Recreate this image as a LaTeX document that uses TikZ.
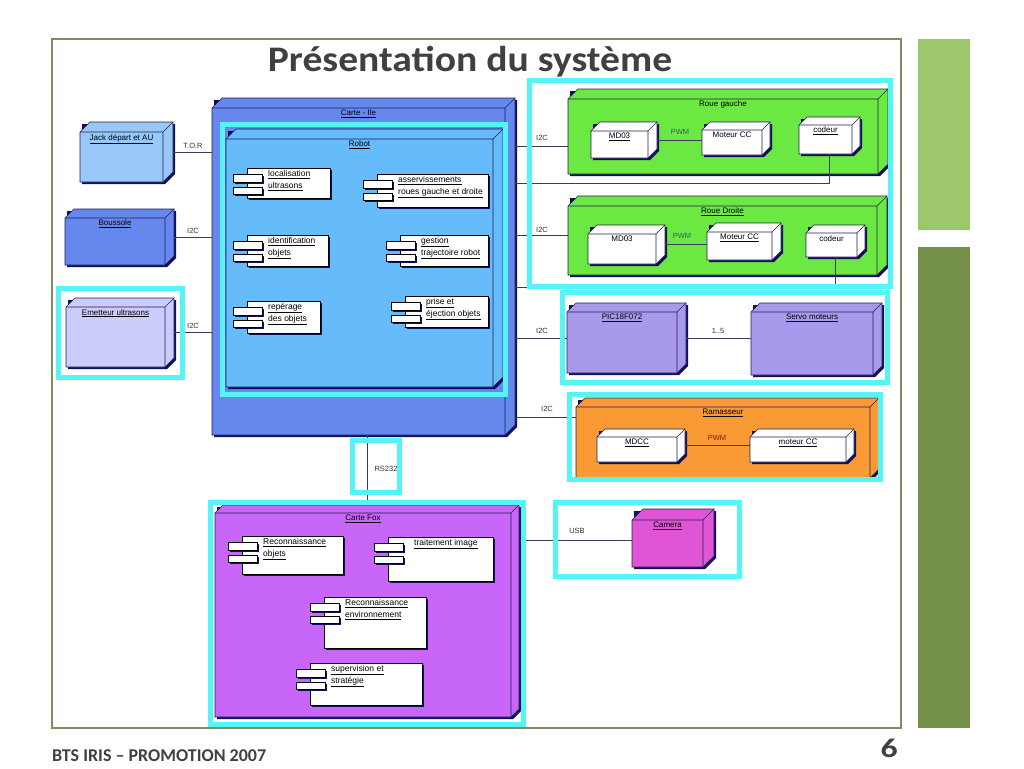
\documentclass[tikz,border=0pt]{standalone}
\usepackage{fontspec}
\setmainfont{Liberation Sans}
\newfontfamily\calib{Carlito}
\usetikzlibrary{calc}
\definecolor{frameC}{HTML}{7F8C5D}
\definecolor{barL}{HTML}{9DC76B}
\definecolor{barD}{HTML}{76924A}
\definecolor{titleC}{HTML}{404040}
\definecolor{cyanF}{HTML}{55F4F7}
\definecolor{shadowC}{HTML}{10105A}
\definecolor{edgeC}{HTML}{1E1E50}
\definecolor{lineC}{HTML}{3C3C5A}
\definecolor{jackC}{HTML}{99C8F8}
\definecolor{blueC}{HTML}{6688EE}
\definecolor{emetC}{HTML}{CCCCFA}
\definecolor{robotC}{HTML}{66BBFA}
\definecolor{greenC}{HTML}{6CE842}
\definecolor{picC}{HTML}{A999EC}
\definecolor{orangeC}{HTML}{FA9A35}
\definecolor{foxC}{HTML}{C766F8}
\definecolor{camC}{HTML}{E055D5}
\definecolor{pwmT}{HTML}{2F6060}
\definecolor{pwmR}{HTML}{8B1A1A}
\newcommand\uln[1]{\underline{#1}}
\tikzset{
  bbox/.style={rectangle,inner sep=0pt,outer sep=0pt,draw=none},
  nlbl/.style={inner sep=1pt,font=\fontsize{8}{10}\selectfont,text=black},
  clbl/.style={anchor=north west,align=left,inner sep=1pt,font=\fontsize{8.5}{12}\selectfont,text=black},
  conn/.style={draw=lineC,line width=0.8pt},
  clab/.style={inner sep=1pt,font=\fontsize{7.5}{9}\selectfont,text=black!80},
  cyanbox/.style={draw=cyanF,line width=5pt},
}
% 3D deployment node: name, x1, y1, x2, y2, depth, fill, label
\newcommand\dnode[8]{%
  \fill[shadowC] (#2+2,#3-#6+2) -- (#4+#6+2,#3-#6+2) -- (#4+#6+2,#5-#6+2) -- (#4+2,#5+2) -- (#2+2,#5+2) -- cycle;
  \filldraw[fill=#7,draw=edgeC,line width=0.6pt] (#2,#3) -- (#2+#6,#3-#6) -- (#4+#6,#3-#6) -- (#4+#6,#5-#6) -- (#4,#5) -- (#2,#5) -- cycle;
  \draw[edgeC,line width=0.6pt] (#2,#3) -- (#4,#3) -- (#4+#6,#3-#6) (#4,#3) -- (#4,#5);
  \node[bbox,minimum width=#4pt+#6pt-#2pt,minimum height=#5pt-#3pt+#6pt,anchor=north west] (#1) at (#2,#3-#6) {};
  \node[nlbl,anchor=north] (#1-l) at ({(#2+#4)/2},#3+1) {#8};
}
% component: name, x1, y1, x2, y2, text
\newcommand\comp[6]{%
  \fill[shadowC] (#2+2,#3+2) rectangle (#4+2,#5+2);
  \filldraw[fill=white,draw=black,line width=0.5pt] (#2,#3) rectangle (#4,#5);
  \fill[shadowC] (#2-12,#3+8) rectangle (#2+17,#3+16);
  \filldraw[fill=white,draw=black,line width=0.5pt] (#2-14,#3+6) rectangle (#2+15,#3+14);
  \fill[shadowC] (#2-12,#3+21) rectangle (#2+17,#3+28);
  \filldraw[fill=white,draw=black,line width=0.5pt] (#2-14,#3+19) rectangle (#2+15,#3+26);
  \node[bbox,minimum width=#4pt-#2pt,minimum height=#5pt-#3pt,anchor=north west] (#1) at (#2,#3) {};
  \node[clbl] (#1-l) at (#2+20,#3+1) {#6};
}
\begin{document}
\begin{tikzpicture}[x=1pt,y=-1pt]
\fill[white] (0,0) rectangle (1024,768);
\useasboundingbox (0,0) rectangle (1024,768);
% slide frame
\draw[frameC,line width=2pt] (52,39) rectangle (901,728);
\fill[barL] (918,39) rectangle (970,230);
\fill[barD] (918,247) rectangle (970,728);
\node[anchor=base,inner sep=0,text=titleC,font=\calib\bfseries\fontsize{36}{44}\selectfont] (title) at (470,71) {\scalebox{1.1}[1]{Présentation du système}};
\node[anchor=base west,inner sep=0,text=titleC,font=\calib\bfseries\fontsize{18}{22}\selectfont] (foot) at (52,761) {BTS IRIS – PROMOTION 2007};
\node[anchor=base east,inner sep=0,text=titleC,font=\calib\bfseries\fontsize{27}{32}\selectfont] (pnum) at (898,757) {\scalebox{1.25}[1]{6}};

% left nodes
\dnode{jack}{80}{132}{163}{182}{10}{jackC}{\uln{Jack départ et AU}}
\dnode{bous}{65}{218}{165}{265}{9}{blueC}{\uln{Boussole}}
\dnode{emet}{66}{307}{165}{367}{9}{emetC}{\uln{Emetteur ultrasons}}

% Carte - Ile and Robot
\dnode{carteile}{212}{108}{505}{435}{10}{blueC}{\uln{Carte - Ile}}
\dnode{robot}{226}{139}{493}{387}{10}{robotC}{\uln{Robot}}
\comp{loc}{247}{168}{330}{198}{\uln{localisation}\\\uln{ultrasons}}
\comp{asserv}{377}{174}{488}{207}{\uln{asservissements}\\\uln{roues gauche et droite}}
\comp{ident}{247}{235}{328}{266}{\uln{identification}\\\uln{objets}}
\comp{gest}{400}{235}{488}{266}{\uln{gestion}\\\uln{trajectoire robot}}
\comp{rep}{247}{301}{320}{333}{\uln{repérage}\\\uln{des objets}}
\comp{prise}{405}{296}{488}{327}{\uln{prise et}\\\uln{éjection objets}}

% Roue gauche
\dnode{rg}{568}{99}{878}{174}{10}{greenC}{Roue gauche}
\dnode{md1}{591}{131}{648}{158}{9}{white}{\uln{MD03}}
\dnode{mot1}{702}{130}{762}{155}{8}{white}{Moteur CC}
\dnode{cod1}{799}{125}{852}{154}{8}{white}{\uln{codeur}}
% Roue droite
\dnode{rd}{568}{206}{877}{275}{10}{greenC}{\uln{Roue Droite}}
\dnode{md2}{588}{234}{656}{264}{9}{white}{MD03}
\dnode{mot2}{707}{232}{772}{260}{9}{white}{\uln{Moteur CC}}
\dnode{cod2}{806}{233}{857}{257}{8}{white}{codeur}
% PIC and servo
\dnode{pic}{567}{312}{677}{373}{9}{picC}{\uln{PIC18F072}}
\dnode{servo}{751}{312}{873}{375}{9}{picC}{\uln{Servo moteurs}}
% Ramasseur
\dnode{ram}{576}{407}{870}{478}{9}{orangeC}{\uln{Ramasseur}}
\dnode{mdcc}{597}{437}{677}{462}{8}{white}{\uln{MDCC}}
\dnode{motcc}{750}{437}{846}{462}{8}{white}{\uln{moteur CC}}
% Carte Fox
\dnode{fox}{215}{513}{511}{717}{8}{foxC}{\uln{Carte Fox}}
\comp{recobj}{242}{536}{343}{574}{\uln{Reconnaissance}\\\uln{objets}}
\comp{trait}{388}{537}{493}{581}{\hspace{5pt}\uln{traitement image}}
\comp{recenv}{324}{597}{426}{648}{\uln{Reconnaissance}\\\uln{environnement}}
\comp{superv}{310}{663}{422}{705}{\uln{supervision et}\\\uln{stratégie}}
% Camera
\dnode{cam}{632}{520}{703}{567}{11}{camC}{\uln{Camera}}

% connectors
\draw[conn] (jack.east) -- (carteile.west |- jack.east);
\draw[conn] (bous.east) -- (carteile.west |- bous.east);
\draw[conn] (emet.east) -- (carteile.west |- emet.east);
\node[clab] (ltor) at (193,146) {T.O.R};
\node[clab] (li2c1) at (193,231) {I2C};
\node[clab] (li2c2) at (193,326) {I2C};

\draw[conn] (carteile.east |- 0,146) -- (rg.west |- 0,146);
\draw[conn] (carteile.east |- rd.west) -- (rd.west);
\draw[conn] (carteile.east |- pic.west) -- (pic.west);
\draw[conn] (carteile.east |- 0,417) -- (ram.west |- 0,417);
\node[clab] (ri2c1) at (542,138) {I2C};
\node[clab] (ri2c2) at (542,230) {I2C};
\node[clab] (ri2c3) at (542,331) {I2C};
\node[clab] (ri2c4) at (547,409) {I2C};

\draw[conn] (cod1.south) -- (cod1.south |- 0,183) -- (carteile.east |- 0,183);
\draw[conn] (cod2.south) -- (cod2.south |- 0,287) -- (carteile.east |- 0,287);

\draw[conn] (md1.east) -- (mot1.west |- md1.east);
\node[clab,text=pwmT] (pwm1) at (680,132) {PWM};
\draw[conn] (md2.east) -- (mot2.west |- md2.east);
\node[clab,text=pwmT] (pwm2) at (682,236) {PWM};
\draw[conn] (pic.east) -- (servo.west |- pic.east);
\node[clab] (l15) at (718,331) {1..5};
\draw[conn] (mdcc.east) -- (motcc.west |- mdcc.east);
\node[clab,text=pwmR] (pwm3) at (717,438) {PWM};

\draw[conn] (carteile.south -| fox.north) -- (fox.north);
\node[clab] (lrs) at (386,469) {RS232};
\draw[conn] (fox.east |- 0,540) -- (cam.west |- 0,540);
\node[clab] (lusb) at (577,531) {USB};

% cyan highlight frames
\draw[cyanbox] (222.5,124) rectangle (505.5,394.5);
\draw[cyanbox] (529.5,80.5) rectangle (890.5,286);
\draw[cyanbox] (562.5,292.5) rectangle (887,382.5);
\draw[cyanbox] (569.5,394.5) rectangle (880.5,479.5);
\draw[cyanbox] (58.5,288.5) rectangle (182.5,377.5);
\draw[cyanbox] (352.5,440.5) rectangle (399.5,492.5);
\draw[cyanbox] (210.5,502.5) rectangle (523.5,724.5);
\draw[cyanbox] (555.5,502.5) rectangle (739.5,576.5);
\end{tikzpicture}
\end{document}
